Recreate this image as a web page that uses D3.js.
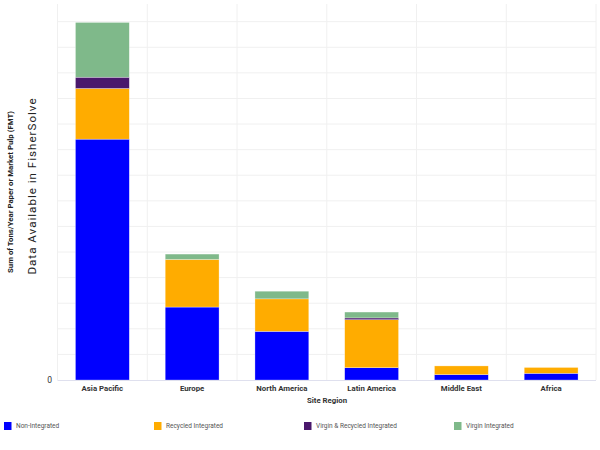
<!DOCTYPE html>
<html><head><meta charset="utf-8">
<script src="https://cdn.jsdelivr.net/npm/d3@7"></script>
<style>body{margin:0;background:#fff;}svg{display:block;font-family:Roboto,"Noto Sans",sans-serif;}</style>
</head><body>
<svg id="c" width="600" height="450"></svg>
<script>
const categories = ["Asia Pacific","Europe","North America","Latin America","Middle East","Africa"];
const seriesNames = ["Non-Integrated","Recycled Integrated","Virgin & Recycled Integrated","Virgin Integrated"];
const nonIntegrated = [9.41, 2.85, 1.90, 0.48, 0.21, 0.26];
const recycledIntegrated = [1.98, 1.86, 1.27, 1.875, 0.34, 0.23];
const virginRecycledIntegrated = [0.44, 0.0, 0.0, 0.07, 0.0, 0.0];
const virginIntegrated = [2.14, 0.21, 0.30, 0.23, 0.0, 0.0];
const colors = ["#0000ff","#ffac00","#4a186c","#7fb98a"];
const yTicks = d3.range(0, 15, 1);
const yTickLabels = ["0"];

const svg = d3.select("#c");
const m = {l:57.5, r:4, t:4, b:70};
const W = 600, H = 450;
const x = d3.scaleBand().domain(categories).range([m.l, W - m.r]).paddingInner(0.4).paddingOuter(0.2);
const y = d3.scaleLinear().domain([0, 14.69]).range([380, 4]);

// gridlines
const g = svg.append("g");
g.selectAll("line.h").data(yTicks.slice(1)).join("line")
  .attr("x1", m.l).attr("x2", W - m.r).attr("y1", d => y(d)).attr("y2", d => y(d))
  .attr("stroke", "#f0f0f0").attr("stroke-width", 1);
const bounds = categories.map((c,i) => m.l + i * x.step()).concat([W - m.r]);
g.selectAll("line.v").data(bounds).join("line")
  .attr("x1", d => d).attr("x2", d => d).attr("y1", 4).attr("y2", 380)
  .attr("stroke", "#f0f0f0").attr("stroke-width", 1);

// stacked data
const rows = categories.map((c, i) => ({cat: c,
  "Non-Integrated": nonIntegrated[i],
  "Recycled Integrated": recycledIntegrated[i],
  "Virgin & Recycled Integrated": virginRecycledIntegrated[i],
  "Virgin Integrated": virginIntegrated[i]}));
const stack = d3.stack().keys(seriesNames)(rows);
svg.append("g").selectAll("g").data(stack).join("g")
  .attr("fill", (d, i) => colors[i])
  .selectAll("rect").data(d => d.filter(p => p[1] - p[0] > 0)).join("rect")
  .attr("x", d => x(d.data.cat)).attr("width", x.bandwidth())
  .attr("y", d => y(d[1])).attr("height", d => y(d[0]) - y(d[1]))
  .attr("stroke", "rgba(255,255,255,0.6)").attr("stroke-width", 0.5);

// baseline axis
svg.append("line").attr("x1", m.l).attr("x2", W - m.r).attr("y1", 380.5).attr("y2", 380.5)
  .attr("stroke", "#dfe0ee").attr("stroke-width", 1);

// y tick label
svg.selectAll("text.yt").data(yTickLabels).join("text")
  .attr("x", 52).attr("y", y(0)).attr("dy", "0.35em").attr("text-anchor", "end")
  .attr("font-size", 8.5).attr("fill", "#333").text(d => d);

// x axis labels
const xAxis = d3.axisBottom(x).tickSize(0).tickPadding(5);
const xa = svg.append("g").attr("transform", "translate(0,380)").call(xAxis);
xa.select(".domain").remove();
xa.selectAll("text").attr("font-size", 7.8).attr("font-weight", "bold").attr("fill", "#333").attr("font-family", "Roboto, sans-serif");

// x title
svg.append("text").attr("x", 327).attr("y", 400).attr("dy", "0.35em").attr("text-anchor", "middle")
  .attr("font-size", 7.8).attr("font-weight", "bold").attr("fill", "#333").text("Site Region");

// y titles
svg.append("text").attr("transform", "translate(13,192) rotate(-90)").attr("text-anchor", "middle")
  .attr("font-size", 7.8).attr("font-weight", "bold").attr("fill", "#222")
  .text("Sum of Tons/Year Paper or Market Pulp (FMT)");
svg.append("text").attr("transform", "translate(36,186) rotate(-90)").attr("text-anchor", "middle")
  .attr("font-size", 11.6).attr("letter-spacing", 1).attr("fill", "#222")
  .text("Data Available in FisherSolve");

// legend
const lg = svg.append("g").selectAll("g").data(seriesNames).join("g")
  .attr("transform", (d, i) => `translate(${4 + i * 150},422)`);
lg.append("rect").attr("width", 7.5).attr("height", 8).attr("fill", (d, i) => colors[i]);
lg.append("text").attr("x", 12).attr("y", 4).attr("dy", "0.35em")
  .attr("font-size", 6.5).attr("fill", "#555").text(d => d);
</script>
</body></html>
